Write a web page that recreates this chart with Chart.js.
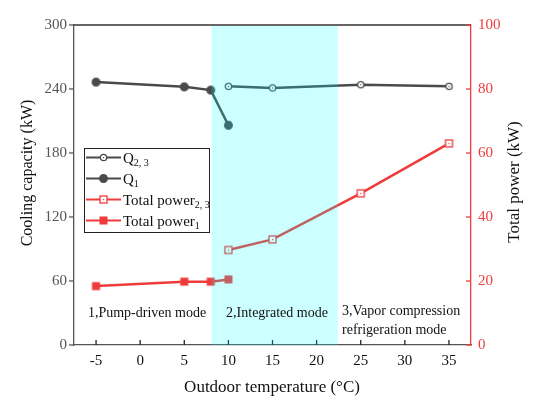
<!DOCTYPE html>
<html lang="en">
<head>
  <meta charset="UTF-8">
  <title>Cooling capacity and total power</title>
  <script src="https://cdn.jsdelivr.net/npm/chart.js"></script>
  <style>
    html, body { margin: 0; padding: 0; background: #fff; }
    #wrap { width: 547px; height: 406px; }
  </style>
</head>
<body>
  <div id="wrap"><canvas id="chart" width="547" height="406"></canvas></div>
  <script>
    // data
    var xTicks = [-5, 0, 5, 10, 15, 20, 25, 30, 35];
    var temps1 = [-5, 5, 8, 10];
    var temps23 = [10, 15, 25, 35];
    var q1 = [246.5, 242, 239, 206];
    var q23 = [242.5, 241, 244, 242.5];
    var power1 = [18.4, 19.8, 19.8, 20.5];
    var power23 = [29.7, 33, 47.4, 63];
    var modeBand = [8.1, 22.4];
    var modeLabels = ['1,Pump-driven mode', '2,Integrated mode', '3,Vapor compression', 'refrigeration mode'];
    var legendNames = [['Q', '2, 3'], ['Q', '1'], ['Total power', '2, 3'], ['Total power', '1']];
    var axisTitles = ['Outdoor temperature (°C)', 'Cooling capacity (kW)', 'Total power (kW)'];

    var SERIF = '"Liberation Serif", "DejaVu Serif", serif';
    var GREY = '#4a4a4a';
    var RED = '#ef3b3b';

    function pts(xs, ys) {
      return xs.map(function (x, i) { return { x: x, y: ys[i] }; });
    }

    // small canvas markers (open ones carry a dot in the middle)
    function marker(kind, color, filled) {
      var c = document.createElement('canvas');
      c.width = 11; c.height = 11;
      var g = c.getContext('2d');
      g.lineWidth = 1.3;
      g.strokeStyle = color;
      g.fillStyle = filled ? color : '#fff';
      if (kind === 'circle') {
        g.beginPath();
        g.arc(5.5, 5.5, filled ? 3.8 : 3.2, 0, Math.PI * 2);
        g.fill(); g.stroke();
      } else if (filled) {
        g.fillRect(1.5, 1.5, 8, 8);
      } else {
        g.fillRect(2, 2, 7, 7);
        g.strokeRect(2, 2, 7, 7);
      }
      if (!filled) { g.fillStyle = color; g.fillRect(5, 5, 1.2, 1.2); }
      return c;
    }

    var mQ23 = marker('circle', GREY, false);
    var mQ1 = marker('circle', GREY, true);
    var mP23 = marker('square', RED, false);
    var mP1 = marker('square', RED, true);

    var decor = {
      id: 'decor',
      beforeDatasetsDraw: function (chart) {
        var ctx = chart.ctx, a = chart.chartArea;
        var x = chart.scales.x, yl = chart.scales.y, yr = chart.scales.y1;
        ctx.save();
        ctx.lineWidth = 1.3;
        // top frame
        ctx.strokeStyle = '#333';
        ctx.beginPath(); ctx.moveTo(a.left, a.top); ctx.lineTo(a.right, a.top); ctx.stroke();
        // bottom ticks (inward)
        ctx.strokeStyle = '#222';
        xTicks.forEach(function (v) {
          var px = x.getPixelForValue(v);
          ctx.beginPath(); ctx.moveTo(px, a.bottom); ctx.lineTo(px, a.bottom - 5); ctx.stroke();
        });
        // left ticks (outward)
        ctx.strokeStyle = '#555';
        yl.ticks.forEach(function (t) {
          var py = yl.getPixelForValue(t.value);
          ctx.beginPath(); ctx.moveTo(a.left - 5, py); ctx.lineTo(a.left, py); ctx.stroke();
        });
        // right ticks (inward)
        ctx.strokeStyle = RED;
        yr.ticks.forEach(function (t) {
          var py = yr.getPixelForValue(t.value);
          ctx.beginPath(); ctx.moveTo(a.right - 5, py); ctx.lineTo(a.right, py); ctx.stroke();
        });

        // axis titles
        ctx.fillStyle = '#111';
        ctx.textAlign = 'center';
        ctx.textBaseline = 'middle';
        ctx.font = '17px ' + SERIF;
        ctx.fillText(axisTitles[0], 272, 388);
        ctx.font = '16px ' + SERIF;
        ctx.save();
        ctx.translate(28, 173); ctx.rotate(-Math.PI / 2);
        ctx.fillText(axisTitles[1], 0, 0);
        ctx.restore();
        ctx.font = '17px ' + SERIF;
        ctx.save();
        ctx.translate(515, 182); ctx.rotate(-Math.PI / 2);
        ctx.fillText(axisTitles[2], 0, 0);
        ctx.restore();
        ctx.restore();
      },
      afterDatasetsDraw: function (chart) {
        var ctx = chart.ctx, a = chart.chartArea;
        var x = chart.scales.x;
        ctx.save();
        // mode band, laid over the lines
        var b0 = x.getPixelForValue(modeBand[0]), b1 = x.getPixelForValue(modeBand[1]);
        ctx.fillStyle = 'rgba(0, 255, 255, 0.2)';
        ctx.fillRect(b0, a.top + 1, b1 - b0, a.bottom - a.top - 1);

        // mode labels
        ctx.fillStyle = '#111';
        ctx.font = '14px ' + SERIF;
        ctx.textBaseline = 'middle';
        ctx.textAlign = 'center';
        ctx.fillText(modeLabels[0], 147, 313);
        ctx.fillText(modeLabels[1], 277, 313);
        ctx.textAlign = 'left';
        ctx.fillText(modeLabels[2], 342, 311);
        ctx.fillText(modeLabels[3], 342, 330);

        // legend box
        var lx = 84, ly = 148, lw = 125, lh = 84;
        ctx.fillStyle = '#fff';
        ctx.fillRect(lx, ly, lw, lh);
        ctx.strokeStyle = '#222';
        ctx.lineWidth = 1;
        ctx.strokeRect(lx + 0.5, ly + 0.5, lw, lh);
        var marks = [mQ23, mQ1, mP23, mP1];
        var cols = [GREY, GREY, RED, RED];
        legendNames.forEach(function (n, i) {
          var y = ly + 9.5 + i * 21;
          ctx.strokeStyle = cols[i];
          ctx.lineWidth = 2.2;
          ctx.beginPath(); ctx.moveTo(lx + 2, y); ctx.lineTo(lx + 37, y); ctx.stroke();
          ctx.drawImage(marks[i], lx + 19.5 - 5.5, y - 5.5);
          ctx.fillStyle = '#111';
          ctx.textAlign = 'left';
          ctx.textBaseline = 'alphabetic';
          ctx.font = '15px ' + SERIF;
          ctx.fillText(n[0], lx + 39, y + 5);
          var w = ctx.measureText(n[0]).width;
          ctx.font = '10px ' + SERIF;
          ctx.fillText(n[1], lx + 39 + w, y + 8);
        });
        ctx.restore();
      }
    };

    new Chart(document.getElementById('chart'), {
      type: 'line',
      data: {
        datasets: [{
          label: 'Q2,3',
          data: pts(temps23, q23),
          yAxisID: 'y',
          borderColor: GREY,
          borderWidth: 2.5,
          pointStyle: mQ23
        }, {
          label: 'Q1',
          data: pts(temps1, q1),
          yAxisID: 'y',
          borderColor: GREY,
          borderWidth: 2.5,
          pointStyle: mQ1
        }, {
          label: 'Total power2,3',
          data: pts(temps23, power23),
          yAxisID: 'y1',
          borderColor: RED,
          borderWidth: 2.5,
          pointStyle: mP23
        }, {
          label: 'Total power1',
          data: pts(temps1, power1),
          yAxisID: 'y1',
          borderColor: RED,
          borderWidth: 2.5,
          pointStyle: mP1
        }]
      },
      options: {
        responsive: false,
        animation: false,
        layout: { padding: { top: 25, left: 0, right: 0, bottom: 0 } },
        plugins: { legend: { display: false }, tooltip: { enabled: false } },
        scales: {
          x: {
            type: 'linear',
            min: -7.5,
            max: 37.5,
            afterBuildTicks: function (s) { s.ticks = xTicks.map(function (v) { return { value: v }; }); },
            afterFit: function (s) { s.height = 61; },
            grid: { display: false, drawTicks: false },
            border: { display: true, color: '#555', width: 1.3 },
            ticks: { color: '#111', padding: 7, font: { family: SERIF, size: 15 } }
          },
          y: {
            position: 'left',
            min: 0, max: 300,
            ticks: { stepSize: 60, color: '#555', padding: 7, font: { family: SERIF, size: 15 } },
            afterFit: function (s) { s.width = 74; },
            grid: { display: false, drawTicks: false },
            border: { display: true, color: '#555', width: 1.3 }
          },
          y1: {
            position: 'right',
            min: 0, max: 100,
            ticks: { stepSize: 20, color: RED, padding: 7, font: { family: SERIF, size: 15 } },
            afterFit: function (s) { s.width = 76; },
            grid: { display: false, drawTicks: false },
            border: { display: true, color: RED, width: 1.3 }
          }
        }
      },
      plugins: [decor]
    });
  </script>
</body>
</html>
